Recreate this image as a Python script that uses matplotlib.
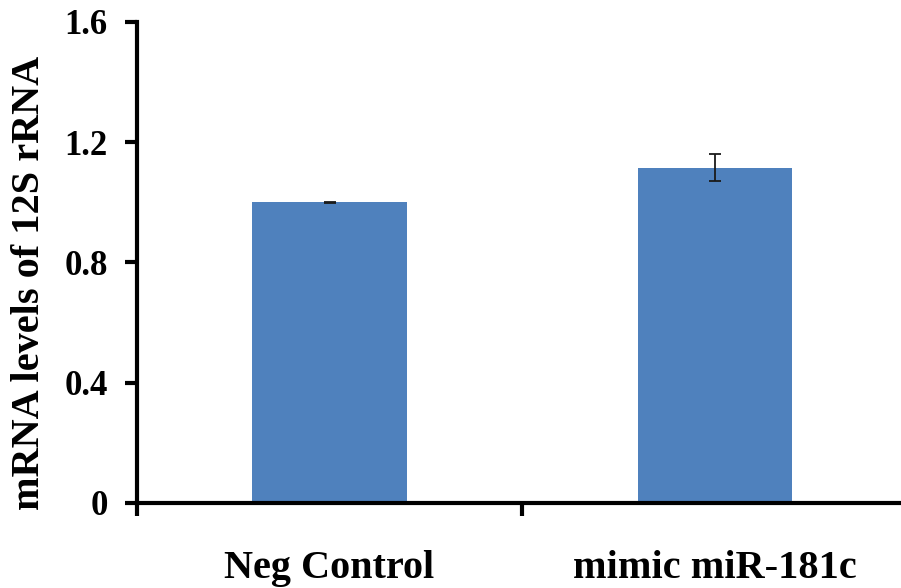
import matplotlib
matplotlib.use("Agg")
import matplotlib.pyplot as plt

categories = ["Neg Control", "mimic miR-181c"]
values = [1.0, 1.115]
errors = [0.002, 0.045]
yticks = [0, 0.4, 0.8, 1.2, 1.6]
ytick_labels = ["0", "0.4", "0.8", "1.2", "1.6"]

plt.rcParams["font.family"] = ["Liberation Serif", "DejaVu Serif"]
plt.rcParams["font.weight"] = "bold"

fig = plt.figure(figsize=(9.01, 5.88), dpi=100)
ax = fig.add_axes([0.152, 0.1446, 0.848, 0.818])

x = range(len(categories))
ax.bar(x, values, width=0.4, color="#4F81BD", zorder=2)
ax.errorbar(x, values, yerr=errors, fmt="none", ecolor="#1a1a1a",
            elinewidth=1.3, capsize=4.5, capthick=1.3, zorder=3)

ax.set_ylim(0, 1.6)
ax.set_xlim(-0.5, 1.484)
ax.set_yticks(yticks)
ax.set_yticklabels(ytick_labels, fontsize=25, fontweight="bold")

# category ticks sit on the boundaries, labels in the middle
ax.set_xticks([-0.5, 0.5])
ax.set_xticklabels([])
ax.set_xticks([0, 1], minor=True)
ax.set_xticklabels(categories, minor=True, fontsize=29, fontweight="bold")
ax.tick_params(axis="x", which="minor", length=0, pad=34)
ax.tick_params(axis="x", which="major", length=9, width=3, direction="out")
ax.tick_params(axis="y", length=9, width=3, direction="out", pad=12)

for side in ("top", "right"):
    ax.spines[side].set_visible(False)
for side in ("left", "bottom"):
    ax.spines[side].set_linewidth(3)

ax.set_ylabel("mRNA levels of 12S rRNA", fontsize=29, fontweight="bold",
              va="center")
ax.yaxis.set_label_coords(-0.14, 0.457)

fig.savefig("out.png", dpi=100)
